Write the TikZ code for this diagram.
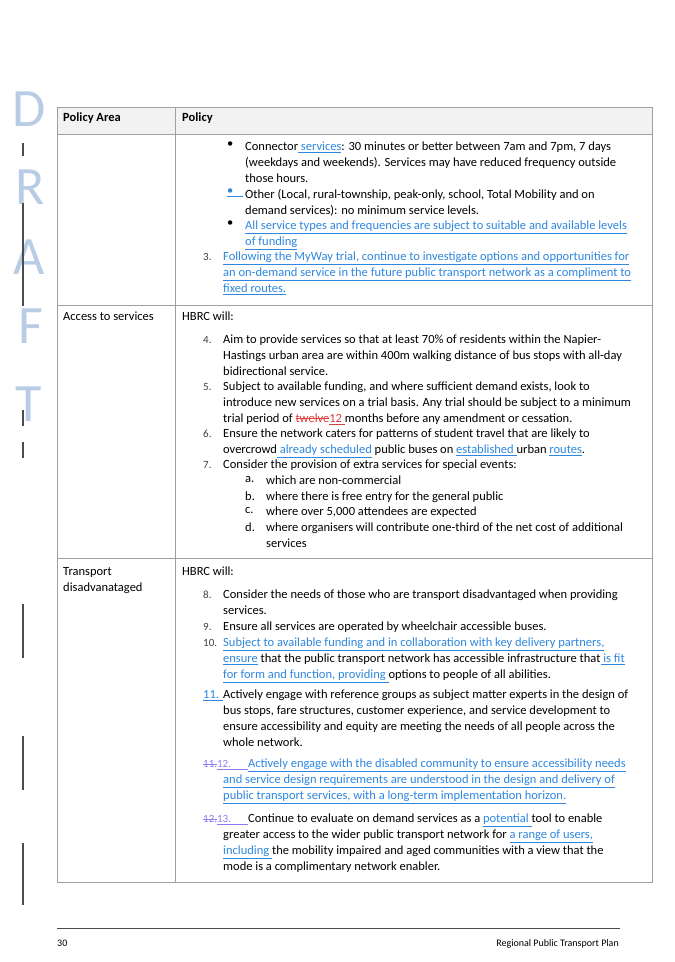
\documentclass[tikz,border=0pt]{standalone}
\usepackage{fontspec}
\setmainfont{Carlito}
\usetikzlibrary{positioning}
\definecolor{insblue}{HTML}{2E86DE}
\definecolor{delred}{HTML}{E03C3C}
\definecolor{numpurple}{HTML}{8C7CF0}
\definecolor{draftblue}{HTML}{B8CCE6}
\definecolor{rulegray}{HTML}{A0A0A0}
\newsavebox\strkbox
\newcommand\insline[1]{\underline{#1}}
\newcommand\strk[1]{\sbox\strkbox{#1}\rlap{\rule[0.28em]{\wd\strkbox}{0.5pt}}\usebox\strkbox}
\newcommand\ins[1]{{\color{insblue}\insline{#1}}}
\newcommand\bodyfont{\fontsize{12.5}{15.8}\selectfont}
\newcommand\numfont{\fontsize{11}{15.8}\selectfont\color{black!75}}

\begin{document}
\begin{tikzpicture}
[x=1pt,y=-1pt,cell/.style={anchor=north west,inner sep=0,align=left,font=\bodyfont},
numlab/.style={anchor=north west,inner sep=0,font=\numfont},
draftletter/.style={anchor=north west,inner sep=0,text=draftblue,font=\fontsize{54}{54}\selectfont},
marginbar/.style={black!70,line width=1.3pt},
gridline/.style={rulegray,line width=0.9pt}]
\useasboundingbox (0,0) rectangle (675,962);

% Draft watermark
\node[draftletter](dD) at (12,92){D};
\node[draftletter](dR) at (15,170){R};
\node[draftletter](dA) at (13,240){A};
\node[draftletter](dF) at (18,309){F};
\node[draftletter](dT) at (15,387){T};
\draw[marginbar] (23,143) -- (23,156);
\draw[marginbar] (23,203) -- (23,306);
\draw[marginbar] (23,410) -- (23,426);
\draw[marginbar] (23,442) -- (23,458);
\draw[marginbar] (23,604) -- (23,658);
\draw[marginbar] (23,736) -- (23,790);
\draw[marginbar] (23,843) -- (23,905);

% Table grid
\fill[black!5] (57,107) rectangle (652,134);
\draw[gridline] (57,107) rectangle (652,882);
\draw[gridline] (175,107) -- (175,882);
\draw[gridline] (57,134) -- (652,134);
\draw[gridline] (57,305) -- (652,305);
\draw[gridline] (57,558) -- (652,558);

% Header
\node[cell,font=\bodyfont\bfseries](hArea) at (63,113){Policy Area};
\node[cell,font=\bodyfont\bfseries](hPolicy) at (182,113){Policy};

% Row 1
\node[cell](b1) at (227,142){\textbullet};
\node[cell](t1) at (245,142){Connector\ins{ services}: 30 minutes or better between 7am and 7pm, 7 days\\(weekdays and weekends). Services may have reduced frequency outside\\those hours.};
\node[cell](b2) at (227,189){\ins{\textbullet\hspace{10pt}}};
\node[cell](t2) at (245,189){Other (Local, rural-township, peak-only, school, Total Mobility and on\\demand services): no minimum service levels.};
\node[cell](b3) at (227,221){\textbullet};
\node[cell](t3) at (245,221){\ins{All service types and frequencies are subject to suitable and available levels}\\\ins{of funding}};
\node[numlab](n3) at (203,253){3.};
\node[cell](t4) at (223,252){\ins{Following the MyWay trial, continue to investigate options and opportunities for}\\\ins{an on-demand service in the future public transport network as a compliment to}\\\ins{fixed routes.}};

% Row 2
\node[cell](aAccess) at (63,312){Access to services};
\node[cell](hbrcA) at (182,312){HBRC will:};
\node[numlab](n4) at (203,336){4.};
\node[cell](p4) at (223,335){Aim to provide services so that at least 70\% of residents within the Napier-\\Hastings urban area are within 400m walking distance of bus stops with all-day\\bidirectional service.};
\node[numlab](n5) at (203,383){5.};
\node[cell](p5) at (223,382){Subject to available funding, and where sufficient demand exists, look to\\introduce new services on a trial basis. Any trial should be subject to a minimum\\trial period of {\color{delred}\strk{twelve}\insline{12 }}months before any amendment or cessation.};
\node[numlab](n6) at (203,430){6.};
\node[cell](p6) at (223,429){Ensure the network caters for patterns of student travel that are likely to\\overcrowd\ins{ already scheduled} public buses on \ins{established }urban \ins{routes}.};
\node[numlab](n7) at (203,461){7.};
\node[cell](p7) at (223,460){Consider the provision of extra services for special events:};
\node[cell](la) at (245,476){a.};
\node[cell](sa) at (266,476){which are non-commercial};
\node[cell](lb) at (245,492){b.};
\node[cell](sb) at (266,492){where there is free entry for the general public};
\node[cell](lc) at (245,507){c.};
\node[cell](sc) at (266,507){where over 5,000 attendees are expected};
\node[cell](ld) at (245,523){d.};
\node[cell](sd) at (266,523){where organisers will contribute one-third of the net cost of additional\\services};

% Row 3
\node[cell](aTrans) at (63,567){Transport\\disadvanataged};
\node[cell](hbrcT) at (182,567){HBRC will:};
\node[numlab](n8) at (203,591){8.};
\node[cell](p8) at (223,590){Consider the needs of those who are transport disadvantaged when providing\\services.};
\node[numlab](n9) at (203,623){9.};
\node[cell](p9) at (223,622){Ensure all services are operated by wheelchair accessible buses.};
\node[numlab](n10) at (203,639){10.};
\node[cell](p10) at (223,638){\ins{Subject to available funding and in collaboration with key delivery partners,}\\\ins{ensure} that the public transport network has accessible infrastructure that\ins{ is fit}\\\ins{for form and function, providing }options to people of all abilities.};
\node[cell](n11) at (203,690){\ins{11.\hspace{4pt}}};
\node[cell](p11) at (223,690){Actively engage with reference groups as subject matter experts in the design of\\bus stops, fare structures, customer experience, and service development to\\ensure accessibility and equity are meeting the needs of all people across the\\whole network.};
\node[numlab,text=numpurple](n12) at (203,760){\strk{11.}\insline{12.\hspace{17pt}}};
\node[cell](p12a) at (248,759){\ins{Actively engage with the disabled community to ensure accessibility needs}};
\node[cell](p12) at (223,775){\ins{and service design requirements are understood in the design and delivery of}\\\ins{public transport services, with a long-term implementation horizon.}};
\node[numlab,text=numpurple](n13) at (203,815){\strk{12.}\insline{13.\hspace{17pt}}};
\node[cell](p13a) at (248,814){Continue to evaluate on demand services as a \ins{potential }tool to enable};
\node[cell](p13) at (223,830){greater access to the wider public transport network for \ins{a range of users,}\\\ins{including }the mobility impaired and aged communities with a view that the\\mode is a complimentary network enabler.};

% Footer
\draw[black!70,line width=0.6pt] (57,928) -- (620,928);
\node[anchor=base west,inner sep=0,font=\fontsize{10}{12}\selectfont](pageNo) at (57,946){30};
\node[anchor=base east,inner sep=0,font=\fontsize{10}{12}\selectfont](footTitle) at (619,946){Regional Public Transport Plan};
\end{tikzpicture}
\end{document}
